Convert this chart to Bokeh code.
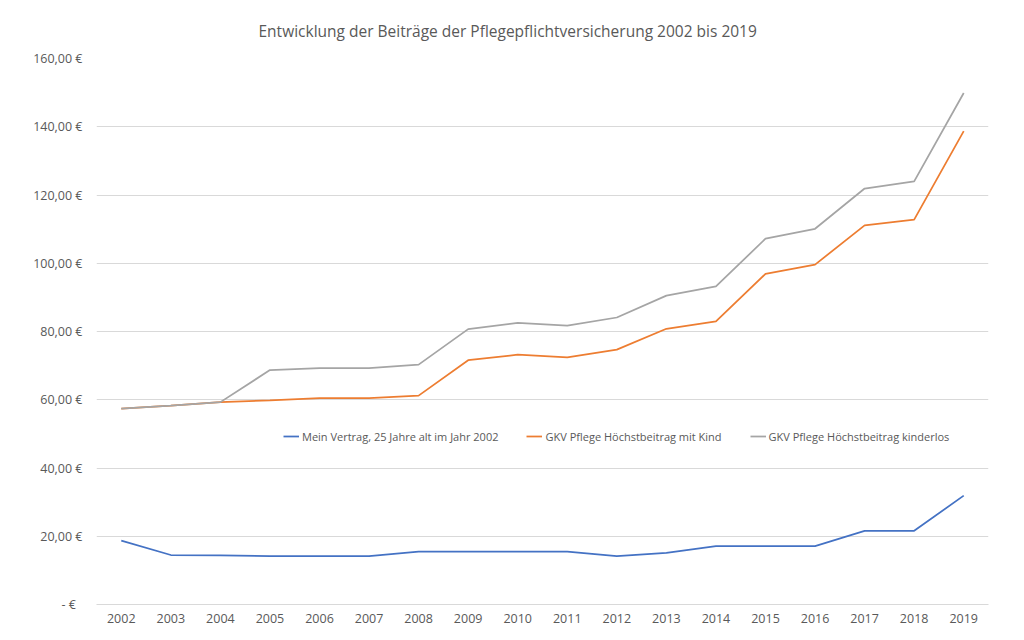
from bokeh.plotting import figure
from bokeh.models import (Range1d, FixedTicker, CustomJSTickFormatter, Legend,
                          LegendItem, Title)
from bokeh.embed import file_html
from bokeh.resources import INLINE

years = [2002, 2003, 2004, 2005, 2006, 2007, 2008, 2009, 2010, 2011,
         2012, 2013, 2014, 2015, 2016, 2017, 2018, 2019]
mein_vertrag = [18.7, 14.5, 14.4, 14.2, 14.2, 14.2, 15.5, 15.5, 15.5, 15.5,
                14.2, 15.1, 17.1, 17.1, 17.1, 21.6, 21.6, 31.9]
gkv_mit_kind = [57.4, 58.3, 59.3, 59.8, 60.5, 60.5, 61.2, 71.6, 73.2, 72.4,
                74.7, 80.8, 83.0, 96.9, 99.6, 111.1, 112.8, 138.7]
gkv_kinderlos = [57.4, 58.3, 59.3, 68.7, 69.3, 69.3, 70.3, 80.7, 82.5, 81.7,
                 84.1, 90.5, 93.2, 107.2, 110.1, 121.9, 124.0, 149.9]
y_ticks = [0, 20, 40, 60, 80, 100, 120, 140, 160]

series_names = ["Mein Vertrag, 25 Jahre alt im Jahr 2002",
                "GKV Pflege Höchstbeitrag mit Kind",
                "GKV Pflege Höchstbeitrag kinderlos"]
colors = ["#4472C4", "#ED7D31", "#A5A5A5"]
title_text = "Entwicklung der Beiträge der Pflegepflichtversicherung 2002 bis 2019"

FONT = "Open Sans"
TXT = "#595959"
LBL = "12.5px"

p = figure(width=1024, height=640, output_backend="svg", toolbar_location=None,
           x_range=Range1d(years[0] - 0.5, years[-1] + 0.5),
           y_range=Range1d(y_ticks[0], y_ticks[-1]),
           min_border_left=96, min_border_right=36,
           min_border_top=58, min_border_bottom=36)
p.outline_line_color = None
p.background_fill_color = "white"
p.border_fill_color = "white"

t = Title(text=title_text, align="left", offset=162,
          text_font=FONT, text_font_size="15.5px", text_color=TXT,
          text_font_style="normal", standoff=34)
p.add_layout(t, "above")

renderers = []
for vals, c in zip([mein_vertrag, gkv_mit_kind, gkv_kinderlos], colors):
    r = p.line(years, vals, line_color=c, line_width=1.75)
    renderers.append(r)

# axes
p.xaxis.ticker = FixedTicker(ticks=years)
p.xaxis.major_tick_out = 0
p.xaxis.major_tick_in = 0
p.xaxis.minor_tick_out = 0
p.xaxis.minor_tick_in = 0
p.xaxis.axis_line_color = "#D9D9D9"
p.xaxis.major_label_standoff = 9
p.xaxis.major_label_text_font = FONT
p.xaxis.major_label_text_font_size = LBL
p.xaxis.major_label_text_color = TXT

p.yaxis.ticker = FixedTicker(ticks=y_ticks)
p.yaxis.formatter = CustomJSTickFormatter(code="""
if (tick == 0) { return "-   \u20ac"; }
return tick.toFixed(2).replace(".", ",") + " \u20ac";
""")
p.yaxis.axis_line_color = None
p.yaxis.major_tick_out = 0
p.yaxis.major_tick_in = 0
p.yaxis.minor_tick_out = 0
p.yaxis.minor_tick_in = 0
p.yaxis.major_label_standoff = 14
p.yaxis.major_label_text_font = FONT
p.yaxis.major_label_text_font_size = LBL
p.yaxis.major_label_text_color = TXT

p.xgrid.grid_line_color = None
p.ygrid.ticker = FixedTicker(ticks=y_ticks)
p.ygrid.grid_line_color = "#D9D9D9"
p.ygrid.grid_line_width = 1

legend = Legend(items=[LegendItem(label=n, renderers=[r])
                       for n, r in zip(series_names, renderers)],
                orientation="horizontal", location=(187, 158),
                padding=0, margin=0, spacing=28,
                glyph_width=16, glyph_height=20, label_standoff=3,
                border_line_color=None, background_fill_alpha=0,
                label_text_font=FONT, label_text_font_size="11px",
                label_text_color=TXT)
p.add_layout(legend, "center")

open("out.html", "w").write(file_html(p, INLINE))
